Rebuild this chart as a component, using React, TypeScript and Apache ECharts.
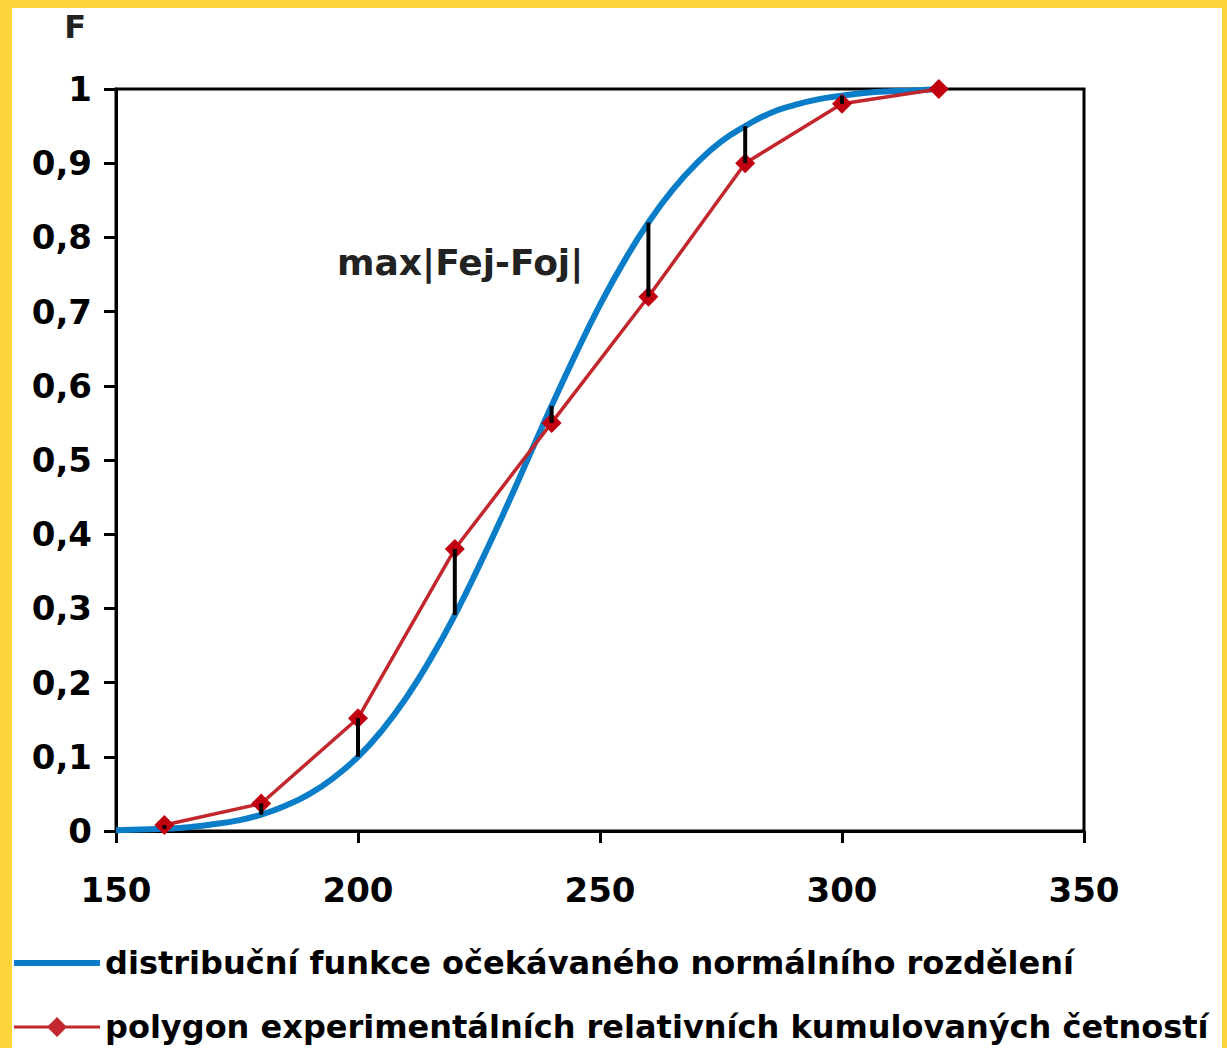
import React, { useEffect, useRef } from "react";
import * as echarts from "echarts";

const yTickLabels = ["0", "0,1", "0,2", "0,3", "0,4", "0,5", "0,6", "0,7", "0,8", "0,9", "1"];

// expected normal distribution function
const normalX = [150, 155, 160, 165, 170, 175, 180, 185, 190, 195, 200, 205, 210, 215, 220, 225, 230, 235, 240, 245, 250, 255, 260, 265, 270, 275, 280, 285, 290, 295, 300, 305, 310, 315, 320];
const normalF = [0.001, 0.002, 0.003, 0.005, 0.009, 0.014, 0.022, 0.034, 0.05, 0.072, 0.1, 0.136, 0.18, 0.232, 0.291, 0.357, 0.427, 0.5, 0.573, 0.643, 0.709, 0.768, 0.82, 0.864, 0.9, 0.929, 0.95, 0.967, 0.978, 0.986, 0.991, 0.995, 0.997, 0.998, 1.0];

// experimental cumulative relative frequencies
const polyX = [160, 180, 200, 220, 240, 260, 280, 300, 320];
const polyF = [0.008, 0.037, 0.152, 0.38, 0.55, 0.72, 0.9, 0.98, 1.0];

const seriesNames = [
  "distribuční funkce očekávaného normálního rozdělení",
  "polygon experimentálních relativních kumulovaných četností",
];
const annotation = "max|Fej-Foj|";
const axisName = "F";

const FONT = "'DejaVu Sans', sans-serif";
const BLUE = "#0A7DC9";
const RED_LINE = "#C1272D";
const RED_MARK = "#C00010";

export default function App() {
  const ref = useRef<HTMLDivElement>(null);
  useEffect(() => {
    document.body.style.margin = "0";
    const chart = echarts.init(ref.current!, null, { renderer: "svg" });
    const diffData = polyX.map((x, i) => {
      const j = normalX.indexOf(x);
      return [x, polyF[i], normalF[j]];
    });
    chart.setOption({
      animation: false,
      backgroundColor: "#FFD43B",
      graphic: [
        { type: "rect", shape: { x: 12, y: 8, width: 1210, height: 1060 }, style: { fill: "#fff" }, z: -10 },
        {
          type: "text",
          left: 337,
          top: 244,
          style: { text: annotation, font: `bold 36px ${FONT}`, fill: "#222" },
        },
      ],
      grid: { left: 116, right: 143, top: 89, bottom: 217, show: true, borderColor: "#000", borderWidth: 3 },
      legend: {
        orient: "vertical",
        left: 14,
        top: 943,
        padding: 0,
        itemWidth: 86,
        itemHeight: 20,
        itemGap: 24,
        textStyle: { fontFamily: FONT, fontWeight: "bold", fontSize: 32, lineHeight: 40, color: "#000" },
        data: [
          {
            name: seriesNames[0],
            icon: "path://M0,0H86V6H0Z",
            itemStyle: { color: BLUE },
          },
          {
            name: seriesNames[1],
            icon: "path://M0,8.5H34.5L43,0L51.5,8.5H86V11.5H51.5L43,20L34.5,11.5H0Z",
            itemStyle: { color: RED_LINE },
          },
        ],
      },
      xAxis: {
        type: "value",
        min: 150,
        max: 350,
        interval: 50,
        axisLine: { show: true, lineStyle: { color: "#000", width: 3 } },
        axisTick: { show: true, inside: false, length: 12, lineStyle: { color: "#000", width: 3 } },
        axisLabel: { fontFamily: FONT, fontWeight: "bold", fontSize: 34, color: "#000", margin: 42 },
        splitLine: { show: false },
      },
      yAxis: {
        type: "value",
        min: 0,
        max: 1,
        interval: 0.1,
        name: axisName,
        nameLocation: "end",
        nameGap: 46,
        nameTextStyle: { fontFamily: FONT, fontWeight: "bold", fontSize: 32, color: "#222", align: "right", padding: [0, 30, 0, 0] },
        axisLine: { show: true, lineStyle: { color: "#000", width: 3 } },
        axisTick: { show: true, inside: false, length: 12, lineStyle: { color: "#000", width: 3 } },
        axisLabel: {
          fontFamily: FONT,
          fontWeight: "bold",
          fontSize: 34,
          color: "#000",
          margin: 24,
          formatter: (v: number) => yTickLabels[Math.round(v * 10)],
        },
        splitLine: { show: false },
      },
      series: [
        {
          name: seriesNames[0],
          type: "line",
          data: normalX.map((x, i) => [x, normalF[i]]),
          smooth: true,
          showSymbol: false,
          symbol: "none",
          lineStyle: { color: BLUE, width: 6 },
          itemStyle: { color: BLUE },
          z: 2,
        },
        {
          name: seriesNames[1],
          type: "line",
          data: polyX.map((x, i) => [x, polyF[i]]),
          symbol: "diamond",
          symbolSize: 20,
          lineStyle: { color: RED_LINE, width: 3.5 },
          itemStyle: { color: RED_MARK },
          z: 3,
        },
        {
          type: "custom",
          data: diffData,
          encode: { x: 0, y: [1, 2] },
          z: 4,
          renderItem: (params: any, api: any) => {
            const p1 = api.coord([api.value(0), api.value(1)]);
            const p2 = api.coord([api.value(0), api.value(2)]);
            return {
              type: "line",
              shape: { x1: p1[0], y1: p1[1], x2: p2[0], y2: p2[1] },
              style: { stroke: "#000", lineWidth: 4 },
            };
          },
        },
      ],
    });
    return () => chart.dispose();
  }, []);
  return <div ref={ref} style={{ width: 1227, height: 1048 }} />;
}
